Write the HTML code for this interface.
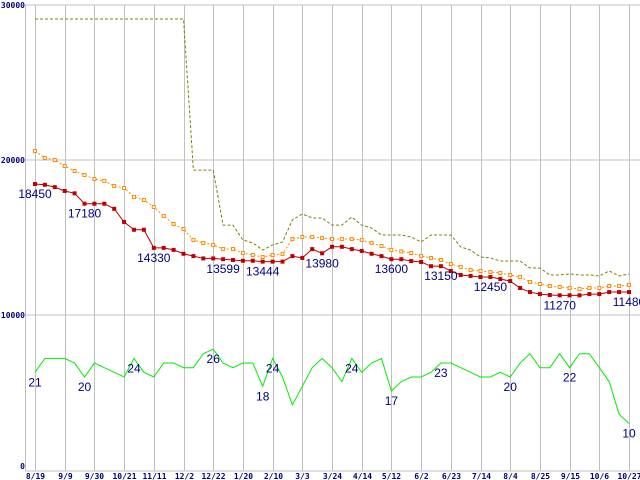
<!DOCTYPE html>
<html><head><meta charset="utf-8"><style>
body{margin:0;background:#fff;}
svg{display:block;}
.ax{font-family:"DejaVu Sans Mono","Liberation Mono",monospace;font-size:8px;fill:#000080;font-weight:bold;}
.dl{font-family:"Liberation Sans",sans-serif;font-size:12px;fill:#000080;}
</style></head><body>
<svg id="chart" width="640" height="480" xmlns="http://www.w3.org/2000/svg"></svg>
<script>
const xLabels=["8/19","9/9","9/30","10/21","11/11","12/2","12/22","1/20","2/10","3/3","3/24","4/14","5/12","6/2","6/23","7/14","8/4","8/25","9/15","10/6","10/27"];
const yTicks=[0,10000,20000,30000];
const minPrice=[18450,18400,18250,18000,17850,17180,17180,17180,16850,16000,15500,15500,14330,14330,14200,13950,13800,13650,13650,13599,13550,13500,13500,13444,13444,13444,13800,13680,14250,13980,14400,14400,14250,14130,13950,13800,13600,13600,13480,13420,13150,13150,12840,12580,12520,12450,12450,12320,12190,11740,11480,11350,11290,11270,11270,11270,11350,11350,11480,11480,11480];
const avgPrice=[20580,20130,20000,19610,19290,19030,18770,18650,18320,18190,17610,17420,16970,16390,15870,15550,14840,14650,14520,14260,14260,14000,13870,13740,13870,13940,14900,15030,15030,14970,14900,14900,14900,14840,14650,14450,14190,14100,14000,13810,13680,13550,13290,13100,12900,12840,12770,12710,12580,12450,12130,12000,11870,11810,11740,11680,11740,11740,11870,11870,11940];
const maxPrice=[29100,29100,29100,29100,29100,29100,29100,29100,29100,29100,29100,29100,29100,29100,29100,29100,19350,19350,19350,15800,15800,14840,14650,14190,14520,14710,16130,16520,16260,16260,15800,15800,16320,15800,15610,15160,15160,15160,15030,14710,15160,15160,15160,14390,14190,13740,13680,13480,13480,13480,13030,13030,12580,12580,12650,12580,12580,12520,12840,12520,12650];
const shopCount=[21,24,24,24,23,20,23,22,21,20,24,21,20,23,23,22,22,25,26,23,22,23,23,18,24,20,14,18,22,24,22,19,24,21,23,24,17,19,20,20,21,23,23,22,21,20,20,21,20,23,25,22,22,25,22,25,25,22,19,12,10];
const priceLabelIdx=[0,5,12,19,23,29,36,41,46,53,60];
const countLabelIdx=[0,5,10,18,23,24,32,36,41,48,54,60];

const NS="http://www.w3.org/2000/svg";
const svg=document.getElementById('chart');
const X0=35,DX=9.9,Y0=470,H=465;
const xs=i=>X0+i*DX;
const yp=v=>Y0-v/30000*H;
const yc=c=>Y0-c/100*H;
function mk(t,a){const e=document.createElementNS(NS,t);for(const k in a)e.setAttribute(k,a[k]);svg.appendChild(e);return e;}
function txt(s,x,y,cls,anchor){const e=mk('text',{x:x,y:y,class:cls,'text-anchor':anchor});e.textContent=s;return e;}

yTicks.forEach(v=>{
  const l=mk('line',{x1:25,x2:640,y1:yp(v)+(v===0?1:0),y2:yp(v)+(v===0?1:0),stroke:'#c0c0c0','stroke-width':1});
  
  
  const t=txt(String(v),25,yp(v)+(v===0?-1:3),'ax','end');
  
  
});
const la=mk('line',{x1:25.5,x2:25.5,y1:5,y2:471,stroke:'#c0c0c0'});


xLabels.forEach((s,k)=>{
  const x=Math.round(xs(k*3))+0.5;
  const l=mk('line',{x1:x,x2:x,y1:5,y2:471,stroke:'#c0c0c0'});
  
  
  const t=txt(s,x,479,'ax','middle');
  
  
});

function poly(arr,f,color,dash,name){
  const p=mk('polyline',{points:arr.map((v,i)=>xs(i)+','+f(v)).join(' '),fill:'none',stroke:color,'stroke-width':1});
  if(dash)p.setAttribute('stroke-dasharray',dash);
  
  
}
poly(maxPrice,yp,'#808000','3,2','max-price-line');
poly(avgPrice,yp,'#ff8c00','2,2','avg-price-line');
avgPrice.forEach((v,i)=>{
  const r=mk('rect',{x:xs(i)-1.5,y:yp(v)-1.5,width:3,height:3,fill:'#fff',stroke:'#ff8c00','stroke-width':1});
  
  
});
poly(minPrice,yp,'#c00000',null,'min-price-line');
minPrice.forEach((v,i)=>{
  const r=mk('rect',{x:xs(i)-2,y:yp(v)-2,width:4,height:4,fill:'#c00000'});
  
  
});
priceLabelIdx.forEach(i=>{
  const t=txt(String(minPrice[i]),xs(i),yp(minPrice[i])+14,'dl','middle');
  
  
});
poly(shopCount,yc,'#00ee00',null,'shop-count-line');
countLabelIdx.forEach(i=>{
  const t=txt(String(shopCount[i]),xs(i),yc(shopCount[i])+14,'dl','middle');
  
  
});
</script>
</body></html>
